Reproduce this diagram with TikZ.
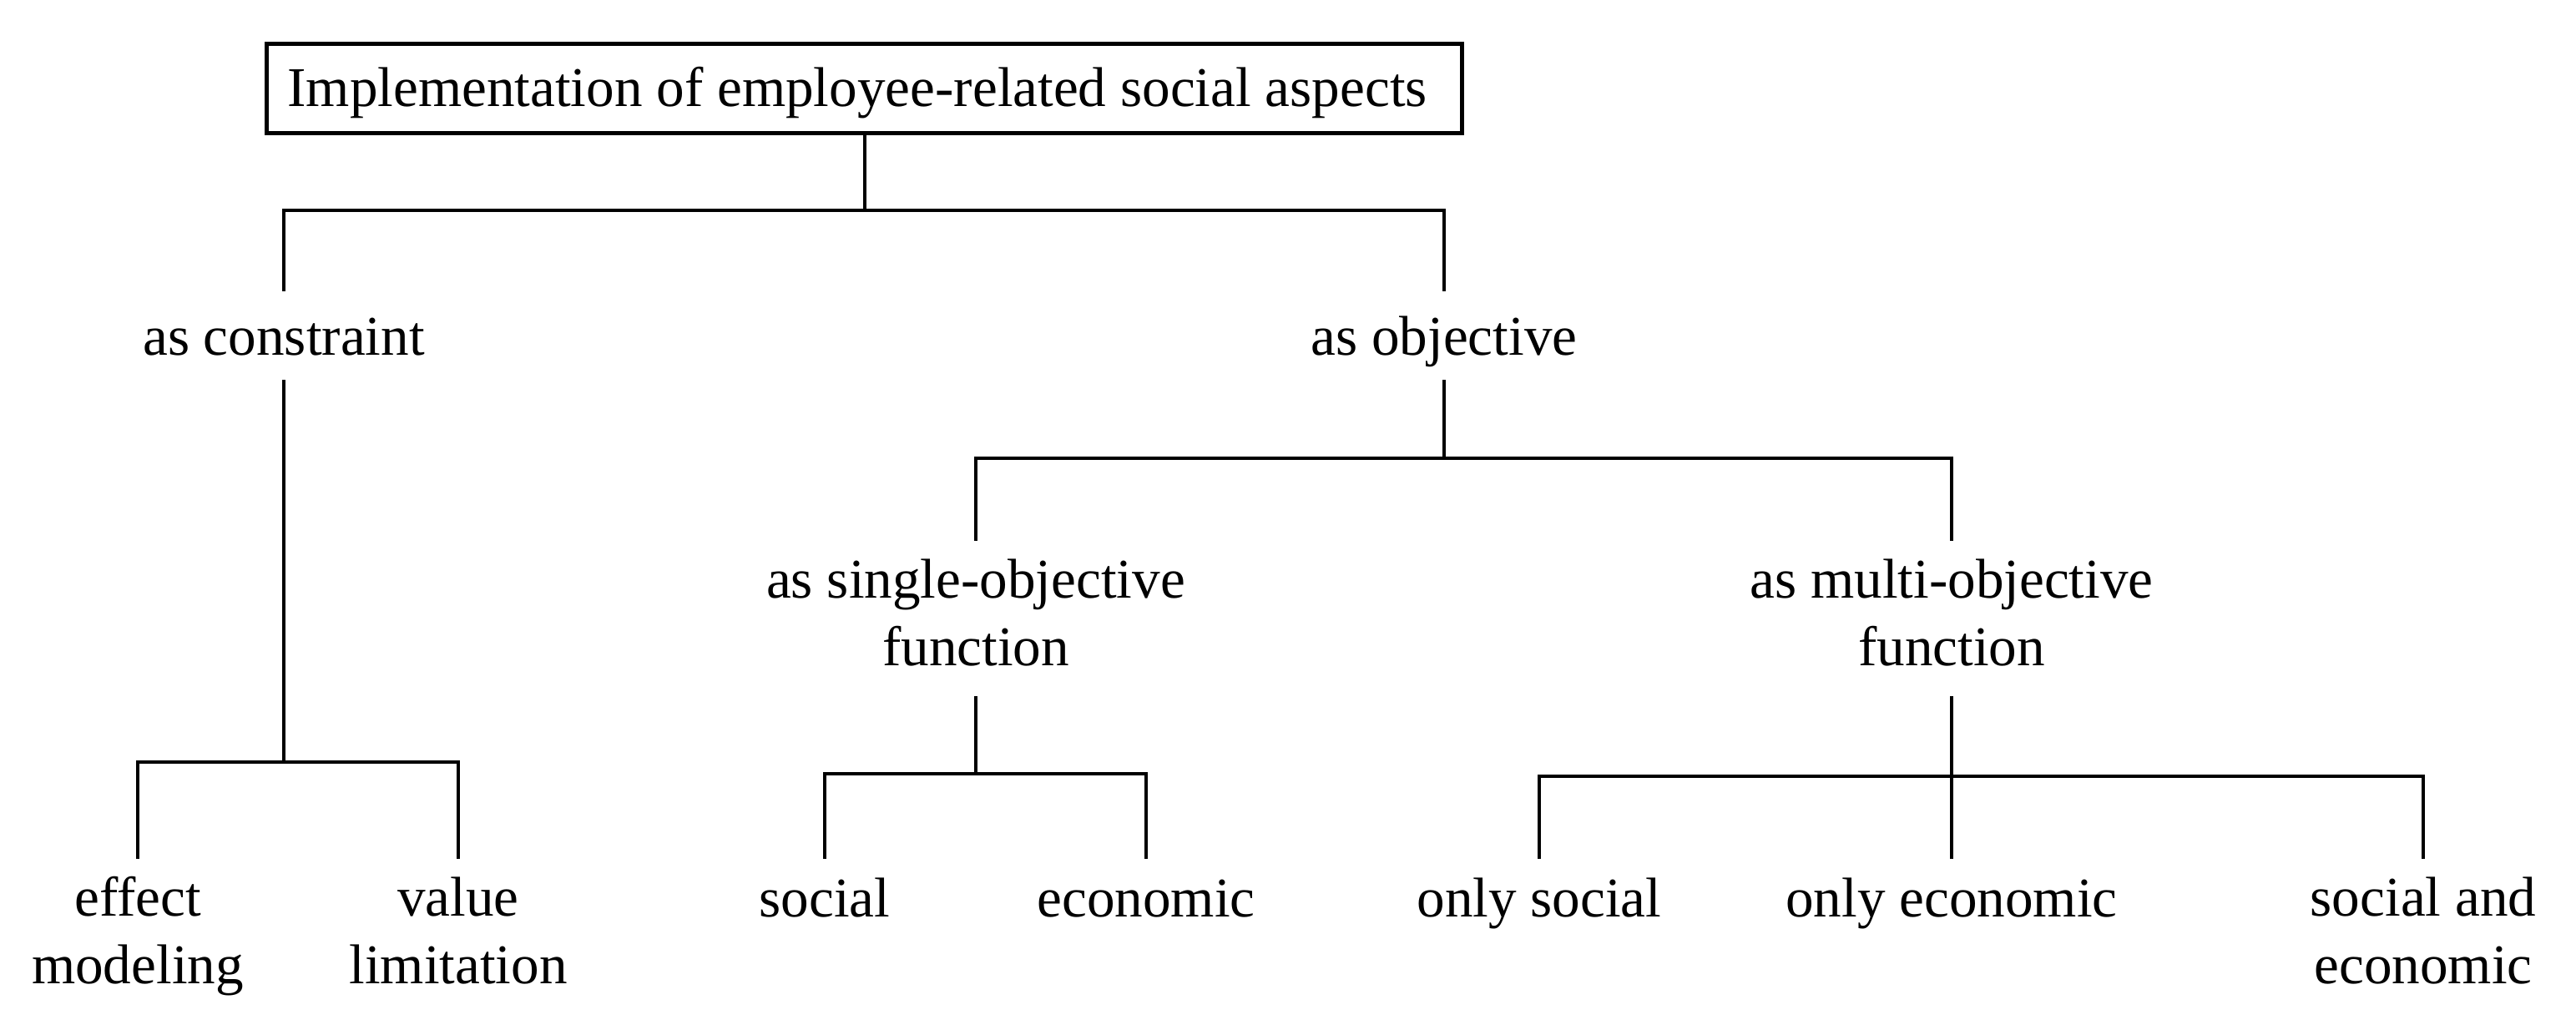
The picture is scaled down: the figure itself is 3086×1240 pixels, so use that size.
\documentclass[tikz,border=0pt]{standalone}
\usepackage{fontspec}
\setmainfont{Liberation Serif}
\newcommand\lblfont{\fontsize{19.1}{22.76}\selectfont}
\begin{document}
\begin{tikzpicture}[x=0.01cm,y=-0.01cm,
  lbl/.style={inner xsep=0pt, inner ysep=0.14cm, align=center, font=\lblfont},
  onelbl/.style={inner sep=0pt, font=\lblfont, text height=0.78cm, text depth=0.30cm, anchor=base},
  conn/.style={line width=0.04cm, line cap=rect}]
\useasboundingbox (0,0) rectangle (3086,1240);
\node[draw, line width=0.05cm, inner sep=0pt, minimum width=14.31cm,
      text height=0.75cm, text depth=0.315cm, font=\lblfont, anchor=base]
      (title) at (1035.5,128) {Implementation of employee-related social aspects\kern0.17cm};
\node[onelbl] (cons)   at (340,426)  {as constraint};
\node[onelbl] (obj)    at (1730,426) {as objective};
\node[lbl] (single) at (1169,741) {\strut as single-objective\\\strut function};
\node[lbl] (multi)  at (2338,741) {\strut as multi-objective\\\strut function};
\node[lbl] (eff)    at (165,1122) {\strut effect\\\strut modeling};
\node[lbl] (val)    at (549,1122) {\strut value\\\strut limitation};
\node[lbl] (soc)    at (988,1082) {\strut social};
\node[lbl] (econ)   at (1373,1082) {\strut economic};
\node[lbl] (osoc)   at (1844,1082) {\strut only social};
\node[lbl] (oecon)  at (2338,1082) {\strut only economic};
\node[lbl] (sae)    at (2903,1122) {\strut social and\\\strut economic};
\coordinate (bus1) at (0,252);
\coordinate (bus2) at (0,913);
\coordinate (bus3) at (0,549);
\coordinate (bus4) at (0,927);
\coordinate (bus5) at (0,930);
% level 1
\draw[conn] (title.south) -- (title.south |- bus1);
\draw[conn] (cons.north) |- (obj.north |- bus1) -- (obj.north);
% constraint
\draw[conn] (cons.south) -- (cons.south |- bus2);
\draw[conn] (eff.north) |- (val.north |- bus2) -- (val.north);
% objective
\draw[conn] (obj.south) -- (obj.south |- bus3);
\draw[conn] (single.north) |- (multi.north |- bus3) -- (multi.north);
% single
\draw[conn] (single.south) -- (single.south |- bus4);
\draw[conn] (soc.north) |- (econ.north |- bus4) -- (econ.north);
% multi
\draw[conn] (multi.south) -- (oecon.north);
\draw[conn] (osoc.north) |- (sae.north |- bus5) -- (sae.north);
\end{tikzpicture}
\end{document}
